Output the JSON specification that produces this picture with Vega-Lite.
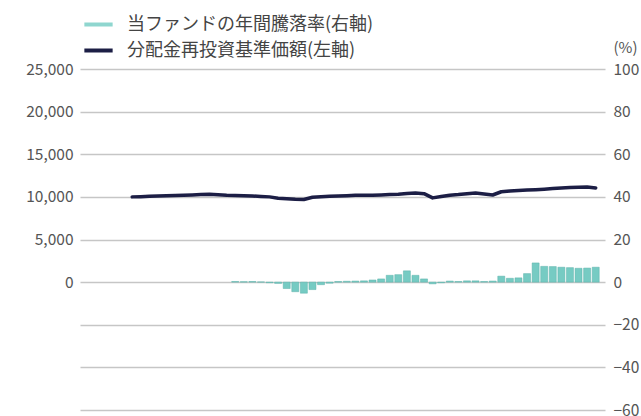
{
  "$schema": "https://vega.github.io/schema/vega-lite/v6.json",
  "width": 525,
  "height": 341,
  "autosize": {"type": "none"},
  "padding": {"left": 80, "top": 69, "right": 36, "bottom": 6},
  "background": "white",
  "config": {"font": "Noto Sans CJK JP", "view": {"stroke": null}},
  "datasets": {
    "nav": [
      {"m": 5.5, "v": 10000, "s": "分配金再投資基準価額(左軸)"},
      {"m": 6.5, "v": 10020, "s": "分配金再投資基準価額(左軸)"},
      {"m": 7.5, "v": 10060, "s": "分配金再投資基準価額(左軸)"},
      {"m": 8.5, "v": 10100, "s": "分配金再投資基準価額(左軸)"},
      {"m": 9.5, "v": 10130, "s": "分配金再投資基準価額(左軸)"},
      {"m": 10.5, "v": 10170, "s": "分配金再投資基準価額(左軸)"},
      {"m": 11.5, "v": 10200, "s": "分配金再投資基準価額(左軸)"},
      {"m": 12.5, "v": 10230, "s": "分配金再投資基準価額(左軸)"},
      {"m": 13.5, "v": 10270, "s": "分配金再投資基準価額(左軸)"},
      {"m": 14.5, "v": 10300, "s": "分配金再投資基準価額(左軸)"},
      {"m": 15.5, "v": 10240, "s": "分配金再投資基準価額(左軸)"},
      {"m": 16.5, "v": 10180, "s": "分配金再投資基準価額(左軸)"},
      {"m": 17.5, "v": 10150, "s": "分配金再投資基準価額(左軸)"},
      {"m": 18.5, "v": 10120, "s": "分配金再投資基準価額(左軸)"},
      {"m": 19.5, "v": 10100, "s": "分配金再投資基準価額(左軸)"},
      {"m": 20.5, "v": 10050, "s": "分配金再投資基準価額(左軸)"},
      {"m": 21.5, "v": 10000, "s": "分配金再投資基準価額(左軸)"},
      {"m": 22.5, "v": 9850, "s": "分配金再投資基準価額(左軸)"},
      {"m": 23.5, "v": 9780, "s": "分配金再投資基準価額(左軸)"},
      {"m": 24.5, "v": 9720, "s": "分配金再投資基準価額(左軸)"},
      {"m": 25.5, "v": 9700, "s": "分配金再投資基準価額(左軸)"},
      {"m": 26.5, "v": 9950, "s": "分配金再投資基準価額(左軸)"},
      {"m": 27.5, "v": 10020, "s": "分配金再投資基準価額(左軸)"},
      {"m": 28.5, "v": 10060, "s": "分配金再投資基準価額(左軸)"},
      {"m": 29.5, "v": 10100, "s": "分配金再投資基準価額(左軸)"},
      {"m": 30.5, "v": 10130, "s": "分配金再投資基準価額(左軸)"},
      {"m": 31.5, "v": 10180, "s": "分配金再投資基準価額(左軸)"},
      {"m": 32.5, "v": 10200, "s": "分配金再投資基準価額(左軸)"},
      {"m": 33.5, "v": 10200, "s": "分配金再投資基準価額(左軸)"},
      {"m": 34.5, "v": 10230, "s": "分配金再投資基準価額(左軸)"},
      {"m": 35.5, "v": 10270, "s": "分配金再投資基準価額(左軸)"},
      {"m": 36.5, "v": 10320, "s": "分配金再投資基準価額(左軸)"},
      {"m": 37.5, "v": 10400, "s": "分配金再投資基準価額(左軸)"},
      {"m": 38.5, "v": 10450, "s": "分配金再投資基準価額(左軸)"},
      {"m": 39.5, "v": 10380, "s": "分配金再投資基準価額(左軸)"},
      {"m": 40.5, "v": 9880, "s": "分配金再投資基準価額(左軸)"},
      {"m": 41.5, "v": 10050, "s": "分配金再投資基準価額(左軸)"},
      {"m": 42.5, "v": 10200, "s": "分配金再投資基準価額(左軸)"},
      {"m": 43.5, "v": 10270, "s": "分配金再投資基準価額(左軸)"},
      {"m": 44.5, "v": 10380, "s": "分配金再投資基準価額(左軸)"},
      {"m": 45.5, "v": 10450, "s": "分配金再投資基準価額(左軸)"},
      {"m": 46.5, "v": 10350, "s": "分配金再投資基準価額(左軸)"},
      {"m": 47.5, "v": 10220, "s": "分配金再投資基準価額(左軸)"},
      {"m": 48.5, "v": 10600, "s": "分配金再投資基準価額(左軸)"},
      {"m": 49.5, "v": 10680, "s": "分配金再投資基準価額(左軸)"},
      {"m": 50.5, "v": 10740, "s": "分配金再投資基準価額(左軸)"},
      {"m": 51.5, "v": 10800, "s": "分配金再投資基準価額(左軸)"},
      {"m": 52.5, "v": 10850, "s": "分配金再投資基準価額(左軸)"},
      {"m": 53.5, "v": 10900, "s": "分配金再投資基準価額(左軸)"},
      {"m": 54.5, "v": 10970, "s": "分配金再投資基準価額(左軸)"},
      {"m": 55.5, "v": 11050, "s": "分配金再投資基準価額(左軸)"},
      {"m": 56.5, "v": 11100, "s": "分配金再投資基準価額(左軸)"},
      {"m": 57.5, "v": 11120, "s": "分配金再投資基準価額(左軸)"},
      {"m": 58.5, "v": 11150, "s": "分配金再投資基準価額(左軸)"},
      {"m": 59.5, "v": 11050, "s": "分配金再投資基準価額(左軸)"}
    ],
    "rate": [
      {"m": 17.5, "r": 0.3}, {"m": 18.5, "r": 0.2}, {"m": 19.5, "r": 0.3},
      {"m": 20.5, "r": 0.1}, {"m": 21.5, "r": -0.3}, {"m": 22.5, "r": -0.6},
      {"m": 23.5, "r": -3.0}, {"m": 24.5, "r": -4.5}, {"m": 25.5, "r": -5.2},
      {"m": 26.5, "r": -3.5}, {"m": 27.5, "r": -1.2}, {"m": 28.5, "r": -0.5},
      {"m": 29.5, "r": 0.3}, {"m": 30.5, "r": 0.4}, {"m": 31.5, "r": 0.5},
      {"m": 32.5, "r": 0.6}, {"m": 33.5, "r": 1.0}, {"m": 34.5, "r": 1.5},
      {"m": 35.5, "r": 3.2}, {"m": 36.5, "r": 3.5}, {"m": 37.5, "r": 5.3},
      {"m": 38.5, "r": 3.2}, {"m": 39.5, "r": 1.5}, {"m": 40.5, "r": -0.8},
      {"m": 41.5, "r": -0.3}, {"m": 42.5, "r": 0.5}, {"m": 43.5, "r": 0.3},
      {"m": 44.5, "r": 0.6}, {"m": 45.5, "r": 0.6}, {"m": 46.5, "r": 0.3},
      {"m": 47.5, "r": 0.5}, {"m": 48.5, "r": 2.8}, {"m": 49.5, "r": 1.8},
      {"m": 50.5, "r": 2.0}, {"m": 51.5, "r": 4.0}, {"m": 52.5, "r": 9.0},
      {"m": 53.5, "r": 7.4}, {"m": 54.5, "r": 7.3}, {"m": 55.5, "r": 7.0},
      {"m": 56.5, "r": 6.8}, {"m": 57.5, "r": 6.5}, {"m": 58.5, "r": 6.6},
      {"m": 59.5, "r": 7.0}
    ]
  },
  "layer": [
    {
      "data": {"name": "rate"},
      "mark": {"type": "bar", "size": 7, "color": "#76cbc3", "stroke": "#5db3ab", "strokeWidth": 0.5},
      "encoding": {
        "x": {
          "field": "m", "type": "quantitative",
          "scale": {"domain": [0, 60], "nice": false, "zero": false},
          "axis": {
            "values": [0, 12, 24, 36, 48, 60], "labels": false, "grid": false,
            "domain": true, "domainColor": "#777", "domainWidth": 1.2,
            "ticks": true, "tickColor": "#777", "tickSize": -6, "tickWidth": 1.2,
            "title": null
          }
        },
        "y": {
          "field": "r", "type": "quantitative",
          "scale": {"domain": [-60, 100], "nice": false},
          "axis": {
            "orient": "right", "values": [-60, -40, -20, 0, 20, 40, 60, 80, 100],
            "grid": true, "gridColor": "#c6c6c6", "gridWidth": 1.5,
            "ticks": false, "domain": false,
            "labelFontSize": 15.5, "labelColor": "#555", "labelPadding": 8,
            "title": "(%)", "titleAngle": 0, "titleAlign": "left", "titleBaseline": "middle",
            "titleX": 8, "titleY": -22, "titleFontSize": 15, "titleFontWeight": "normal", "titleColor": "#555"
          }
        }
      }
    },
    {
      "data": {"name": "nav"},
      "mark": {"type": "line", "strokeWidth": 3.5, "strokeJoin": "round", "strokeCap": "round"},
      "encoding": {
        "x": {"field": "m", "type": "quantitative", "axis": null},
        "y": {
          "field": "v", "type": "quantitative",
          "scale": {"domain": [-15000, 25000], "nice": false},
          "axis": {
            "orient": "left", "values": [0, 5000, 10000, 15000, 20000, 25000],
            "labelExpr": "format(datum.value, ',')",
            "grid": false, "ticks": false, "domain": false,
            "labelFontSize": 15.5, "labelColor": "#555", "labelPadding": 7, "title": null
          }
        },
        "color": {
          "field": "s", "type": "nominal",
          "scale": {
            "domain": ["当ファンドの年間騰落率(右軸)", "分配金再投資基準価額(左軸)"],
            "range": ["#8fd6cf", "#1c1e45"]
          },
          "legend": {
            "orient": "none", "legendX": 2, "legendY": -61, "title": null,
            "symbolType": "stroke", "symbolSize": 800, "symbolStrokeWidth": 4,
            "labelFontSize": 18, "labelColor": "#444", "labelOffset": 12, "labelLimit": 0,
            "rowPadding": -6, "padding": 0
          }
        }
      }
    }
  ],
  "resolve": {"scale": {"y": "independent"}}
}
